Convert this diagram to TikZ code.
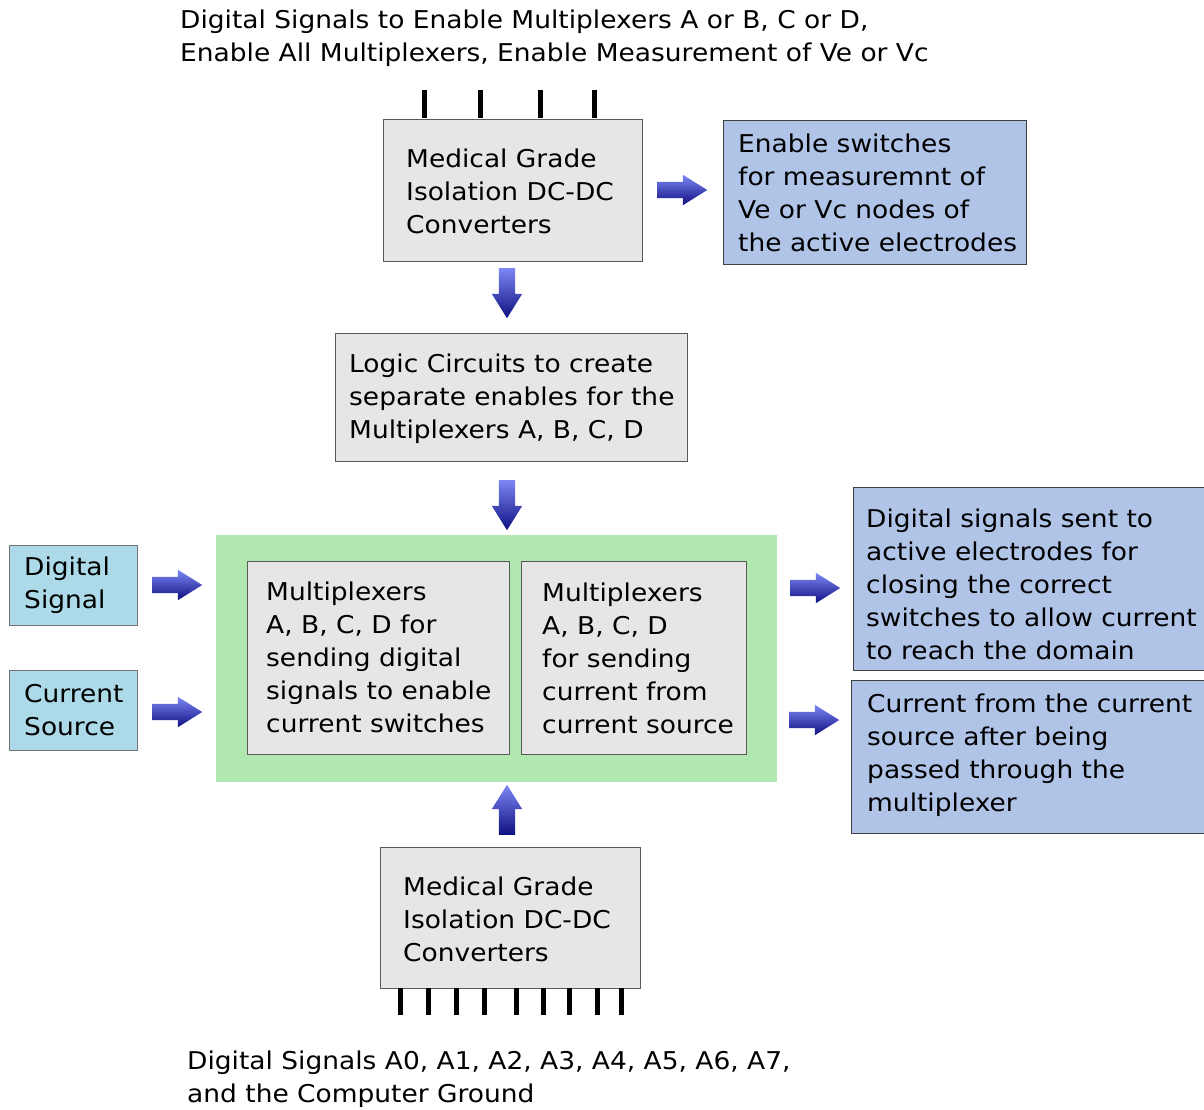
\documentclass[tikz,border=0pt]{standalone}
\usepackage{fontspec}
\setmainfont{DejaVu Sans}[FakeStretch=1.08]
\usetikzlibrary{shapes.arrows}
\definecolor{boxgray}{RGB}{230,230,230}
\definecolor{boxblue}{RGB}{176,196,232}
\definecolor{boxcyan}{RGB}{173,218,232}
\definecolor{boxgreen}{RGB}{176,232,176}
\definecolor{arrlight}{RGB}{125,135,245}
\definecolor{arrdark}{RGB}{15,15,130}
\tikzset{
  txt/.style={font=\fontsize{24.5}{33}\selectfont, align=left, anchor=west, inner sep=0, yshift=-1.5pt},
  box/.style={anchor=north west, inner sep=0, line width=1pt},
  graybox/.style={box, draw=black!65, fill=boxgray},
  bluebox/.style={box, draw=black!75, fill=boxblue},
  cyanbox/.style={box, draw=black!55, fill=boxcyan},
  pin/.style={line width=5pt},
  harrow/.style={single arrow, anchor=tail, minimum height=50pt, minimum width=30pt, inner xsep=0pt, inner ysep=8pt,
    single arrow head extend=7pt, single arrow tip angle=64, top color=arrlight, bottom color=arrdark},
  varrow/.style={harrow, rotate=#1},
}
\begin{document}
\begin{tikzpicture}[x=1pt, y=-1pt]
\useasboundingbox (0,0) rectangle (1204,1110);
% top
\node[txt] (toptext) at (180,37) {Digital Signals to Enable Multiplexers A or B, C or D,\\Enable All Multiplexers, Enable Measurement of Ve or Vc};
\foreach \x in {424,480,540,594}
  \draw[pin] (\x,90) -- (\x,118);
\node[graybox, minimum width=259pt, minimum height=142pt] (topconv) at (383,119) {};
\node[txt] (topconvtext) at (406,190) {Medical Grade\\Isolation DC-DC\\Converters};
\node[harrow] (arrtr) at (657,190) {};
\node[bluebox, minimum width=303pt, minimum height=144pt] (enable) at (723,120) {};
\node[txt] (enabletext) at (738,191.5) {Enable switches\\for measuremnt of\\Ve or Vc nodes of\\the active electrodes};
\node[varrow=-90] (arrd1) at (507,268) {};
\node[graybox, minimum width=352pt, minimum height=128pt] (logic) at (335,333) {};
\node[txt] (logictext) at (349,397) {Logic Circuits to create\\separate enables for the\\Multiplexers A, B, C, D};
\node[varrow=-90] (arrd2) at (507,480) {};
% middle
\node[box, fill=boxgreen, minimum width=561pt, minimum height=247pt] (mux) at (215,534) {};
\node[graybox, minimum width=262pt, minimum height=193pt] (muxsig) at (247,561) {};
\node[txt] (muxsigtext) at (266,655.5) {Multiplexers\\A, B, C, D for\\sending digital\\signals to enable\\current switches};
\node[graybox, minimum width=225pt, minimum height=193pt] (muxcur) at (521,561) {};
\node[txt] (muxcurtext) at (542,656.5) {Multiplexers\\A, B, C, D\\for sending\\current from\\current source};
\node[cyanbox, minimum width=128pt, minimum height=80pt] (digsig) at (9,545) {};
\node[txt] (digsigtext) at (24,583.5) {Digital\\Signal};
\node[cyanbox, minimum width=128pt, minimum height=80pt] (cursrc) at (9,670) {};
\node[txt] (cursrctext) at (24,708.5) {Current\\Source};
\node[harrow] (arrl1) at (152,585) {};
\node[harrow] (arrl2) at (152,712) {};
\node[harrow] (arrr1) at (790,588) {};
\node[harrow] (arrr2) at (789,720) {};
\node[bluebox, minimum width=351pt, minimum height=183pt] (sigout) at (853,487) {};
\node[txt] (sigouttext) at (866,583) {Digital signals sent to\\active electrodes for\\closing the correct\\switches to allow current\\to reach the domain};
\node[bluebox, minimum width=353pt, minimum height=153pt] (curout) at (851,680) {};
\node[txt] (curouttext) at (867,753.5) {Current from the current\\source after being\\passed through the\\multiplexer};
% bottom
\node[varrow=90] (arru) at (507,835) {};
\node[graybox, minimum width=260pt, minimum height=141pt] (botconv) at (380,847) {};
\node[txt] (botconvtext) at (403,918) {Medical Grade\\Isolation DC-DC\\Converters};
\foreach \x in {400,428,456,484,516,543,569,597,621}
  \draw[pin] (\x,988) -- (\x,1015);
\node[txt] (bottext) at (187,1078) {Digital Signals A0, A1, A2, A3, A4, A5, A6, A7,\\and the Computer Ground};
\end{tikzpicture}
\end{document}
